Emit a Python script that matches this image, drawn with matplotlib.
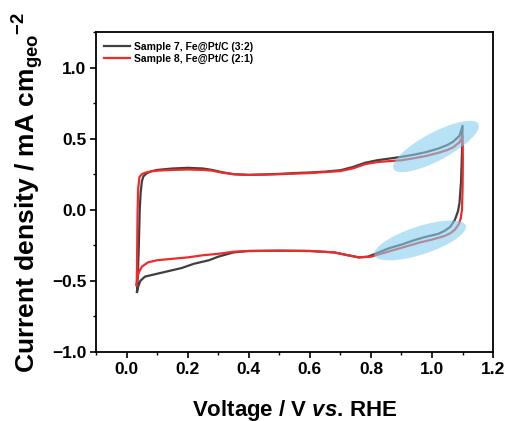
import matplotlib
matplotlib.use("Agg")
import matplotlib.pyplot as plt
from matplotlib.patches import Ellipse
from matplotlib.transforms import ScaledTranslation
from matplotlib.ticker import MultipleLocator

plt.rcParams['font.family'] = ['Liberation Sans', 'DejaVu Sans']
plt.rcParams['font.weight'] = 'bold'
plt.rcParams['mathtext.fontset'] = 'custom'
plt.rcParams['mathtext.rm'] = 'Liberation Sans:bold'
plt.rcParams['mathtext.bf'] = 'Liberation Sans:bold'
plt.rcParams['mathtext.it'] = 'Liberation Sans:bold:italic'

# Sample 7, Fe@Pt/C (3:2): anodic sweep then cathodic sweep
s7_v_up = [0.034, 0.037, 0.040, 0.043, 0.046, 0.050, 0.055, 0.065, 0.08, 0.10,
           0.15, 0.20, 0.25, 0.28, 0.31, 0.35, 0.40, 0.45, 0.50, 0.55, 0.60,
           0.65, 0.70, 0.74, 0.78, 0.82, 0.86, 0.90, 0.94, 0.98, 1.02, 1.05,
           1.07, 1.09, 1.10]
s7_j_up = [-0.578, -0.45, -0.25, 0.0, 0.12, 0.20, 0.235, 0.255, 0.27, 0.28,
           0.29, 0.295, 0.29, 0.28, 0.265, 0.25, 0.245, 0.248, 0.252, 0.258,
           0.262, 0.268, 0.278, 0.30, 0.33, 0.348, 0.36, 0.372, 0.387, 0.405,
           0.43, 0.455, 0.48, 0.52, 0.59]
s7_v_down = [1.10, 1.098, 1.095, 1.09, 1.085, 1.075, 1.06, 1.04, 1.02, 0.98,
             0.94, 0.90, 0.86, 0.82, 0.79, 0.76, 0.72, 0.68, 0.60, 0.50, 0.40,
             0.35, 0.30, 0.27, 0.22, 0.18, 0.13, 0.09, 0.06, 0.045, 0.038, 0.034]
s7_j_down = [0.59, 0.40, 0.20, 0.05, -0.01, -0.07, -0.12, -0.15, -0.17, -0.19,
             -0.215, -0.245, -0.27, -0.305, -0.33, -0.335, -0.318, -0.30, -0.29,
             -0.288, -0.29, -0.30, -0.33, -0.355, -0.38, -0.41, -0.435, -0.455,
             -0.47, -0.50, -0.54, -0.578]

# Sample 8, Fe@Pt/C (2:1)
s8_v_up = [0.033, 0.034, 0.035, 0.036, 0.038, 0.042, 0.05, 0.06, 0.08, 0.10,
           0.15, 0.20, 0.25, 0.28, 0.31, 0.35, 0.40, 0.50, 0.60, 0.70, 0.74,
           0.78, 0.82, 0.86, 0.90, 0.94, 0.98, 1.02, 1.05, 1.07, 1.09, 1.10]
s8_j_up = [-0.53, -0.40, -0.20, 0.0, 0.15, 0.23, 0.25, 0.26, 0.27, 0.275,
           0.28, 0.283, 0.28, 0.275, 0.262, 0.25, 0.245, 0.25, 0.258, 0.272,
           0.29, 0.32, 0.335, 0.342, 0.348, 0.362, 0.378, 0.40, 0.42, 0.44,
           0.475, 0.52]
s8_v_down = [1.10, 1.101, 1.10, 1.098, 1.094, 1.088, 1.075, 1.06, 1.04, 1.00,
             0.96, 0.92, 0.88, 0.84, 0.80, 0.76, 0.72, 0.68, 0.60, 0.50, 0.40,
             0.35, 0.30, 0.25, 0.20, 0.15, 0.10, 0.07, 0.05, 0.04, 0.035, 0.033]
s8_j_down = [0.52, 0.35, 0.15, 0.0, -0.06, -0.10, -0.14, -0.165, -0.185, -0.21,
             -0.23, -0.255, -0.28, -0.305, -0.33, -0.335, -0.318, -0.30, -0.29,
             -0.288, -0.29, -0.295, -0.31, -0.32, -0.335, -0.345, -0.355, -0.37,
             -0.40, -0.44, -0.48, -0.53]

labels = ['Sample 7, Fe@Pt/C (3:2)', 'Sample 8, Fe@Pt/C (2:1)']
colors = ['#3f3f3f', '#ee2b2b']

# highlighted regions: centre (V, j) and tilt
highlight_centres = [(1.013, 0.445), (0.961, -0.216)]
highlight_angles = [28, 18]

fig = plt.figure(figsize=(5.11, 4.21), dpi=100)
ax = fig.add_axes([0.188, 0.164, 0.777, 0.760])

ax.plot(s7_v_up + s7_v_down, s7_j_up + s7_j_down, color=colors[0], lw=1.6, label=labels[0])
ax.plot(s8_v_up + s8_v_down, s8_j_up + s8_j_down, color=colors[1], lw=1.6, label=labels[1])

for (cx, cy), ang in zip(highlight_centres, highlight_angles):
    e = Ellipse((0, 0), 0.96, 0.28, angle=ang, facecolor='#87cdee', alpha=0.6,
                edgecolor='none', zorder=3,
                transform=fig.dpi_scale_trans + ScaledTranslation(cx, cy, ax.transData))
    ax.add_patch(e)

ax.set_xlim(-0.1, 1.2)
ax.set_ylim(-1.0, 1.25)
ax.xaxis.set_major_locator(MultipleLocator(0.2))
ax.xaxis.set_minor_locator(MultipleLocator(0.1))
ax.yaxis.set_major_locator(MultipleLocator(0.5))
ax.yaxis.set_minor_locator(MultipleLocator(0.25))
ax.tick_params(which='major', direction='out', length=4, width=1.2, labelsize=12.5, pad=3)
ax.tick_params(which='minor', direction='out', length=2, width=1.0)
for sp in ax.spines.values():
    sp.set_linewidth(1.3)

ax.set_xlabel(r'Voltage / V $\mathit{vs}$. RHE', fontsize=16, fontweight='bold', labelpad=15)
ax.set_ylabel(r'Current density / mA cm$_{\mathbf{geo}}$$^{\mathbf{-2}}$', fontsize=19,
              fontweight='bold', labelpad=4)

ax.legend(loc='upper left', bbox_to_anchor=(0.0, 0.995), frameon=False, fontsize=7.5,
          handlelength=2.5, handletextpad=0.3, labelspacing=0.15, borderaxespad=0.4)

fig.savefig('out.png', dpi=100)
